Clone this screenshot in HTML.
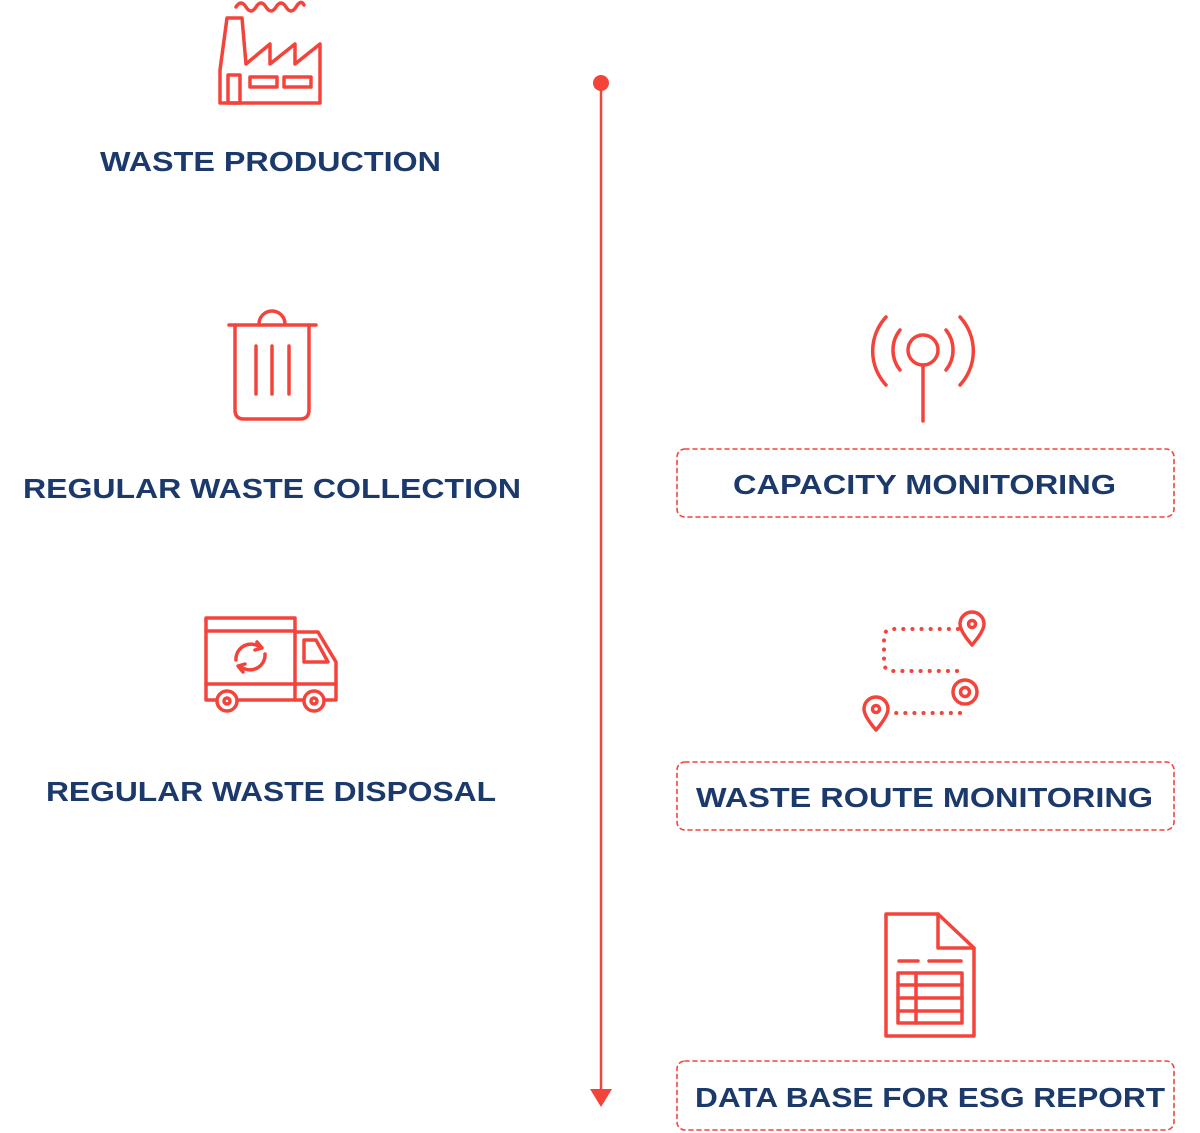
<!DOCTYPE html>
<html><head><meta charset="utf-8"><style>
html,body{margin:0;padding:0;background:#fff;}
svg{display:block}
text{font-family:"Liberation Sans",Arial,sans-serif;font-weight:bold;font-size:28px;fill:#1b3a6b;}
</style></head><body>
<svg width="1200" height="1133" viewBox="0 0 1200 1133" xmlns="http://www.w3.org/2000/svg">
<g fill="none" stroke="#f4433b" stroke-width="3.5" stroke-linejoin="round" stroke-linecap="round">
<circle cx="601" cy="83" r="8" fill="#f4433b" stroke="none"/>
<line x1="601" y1="83" x2="601" y2="1092" stroke-width="2.5"/>
<polygon points="590,1089 612,1089 601,1107" fill="#f4433b" stroke="none"/>
<path d="M236,7 q5,-8 10,0 t10,0 t10,0 t10,0 t10,0 t10,0 t8,-2" stroke-width="3.5"/>
<path d="M220,103 L220,70 L227,18 L242,18 L246,64 L270,44 L270,64 L295,44 L295,64 L320,44 L320,103 Z"/>
<rect x="228" y="75" width="12" height="28"/>
<rect x="250" y="77" width="27" height="10"/>
<rect x="284" y="77" width="27" height="10"/>
<line x1="229" y1="325" x2="316" y2="325"/>
<path d="M259,324 a13,13 0 0 1 26,0"/>
<path d="M235,325 L235,410 q0,9 9,9 L300,419 q9,0 9,-9 L309,325"/>
<line x1="256" y1="346" x2="256" y2="394"/><line x1="272" y1="346" x2="272" y2="394"/><line x1="289" y1="346" x2="289" y2="394"/>
<rect x="206" y="618" width="89" height="82"/>
<line x1="206" y1="631" x2="295" y2="631"/>
<path d="M295,632 L318,632 L336,662 L336,700 L295,700"/>
<path d="M304,640 L316,640 L328,662 L304,662 Z"/>
<line x1="206" y1="684" x2="336" y2="684"/>
<circle cx="227" cy="701" r="10" fill="#fff"/><circle cx="227" cy="701" r="3"/>
<circle cx="314" cy="701" r="10" fill="#fff"/><circle cx="314" cy="701" r="3"/>
<path d="M236,660 a15,15 0 0 1 25,-12"/><path d="M265,654 a15,15 0 0 1 -25,12"/>
<path d="M257,642 l5,6 l-7,2"/><path d="M243,672 l-5,-6 l7,-2"/>
<circle cx="923" cy="350" r="15"/>
<line x1="923" y1="365" x2="923" y2="421"/>
<path d="M900,330 a32,32 0 0 0 0,40"/><path d="M946,330 a32,32 0 0 1 0,40"/>
<path d="M886,317 a50,50 0 0 0 0,68"/><path d="M960,317 a50,50 0 0 1 0,68"/>
<path d="M958,629 L893,629 Q884,629 884,638 L884,662 Q884,671 893,671 L960,671" stroke-dasharray="0.1 9" stroke-width="4"/>
<path d="M960,713 L895,713" stroke-dasharray="0.1 9" stroke-width="4"/>
<path d="M972,645 q-12,-14 -12,-21 a12,12 0 0 1 24,0 q0,7 -12,21 Z"/><circle cx="972" cy="624" r="3.5"/>
<path d="M876,730 q-12,-14 -12,-21 a12,12 0 0 1 24,0 q0,7 -12,21 Z"/><circle cx="876" cy="709" r="3.5"/>
<circle cx="965" cy="692" r="12"/><circle cx="965" cy="692" r="4.5"/>
<path d="M886,914 L938,914 L974,948 L974,1036 L886,1036 Z"/>
<path d="M938,914 L938,948 L974,948"/>
<line x1="899" y1="961" x2="918" y2="961"/><line x1="929" y1="961" x2="961" y2="961"/>
<rect x="898" y="973" width="64" height="50"/>
<line x1="898" y1="985" x2="962" y2="985"/><line x1="898" y1="998" x2="962" y2="998"/><line x1="898" y1="1011" x2="962" y2="1011"/>
<line x1="916" y1="973" x2="916" y2="1023"/>
<g stroke-width="1.6" stroke-dasharray="4 4">
<rect x="677" y="449" width="497" height="68" rx="8"/>
<rect x="677" y="762" width="497" height="68" rx="8"/>
<rect x="677" y="1061" width="497" height="69" rx="8"/>
</g>
</g>
<text x="100" y="171" textLength="341" lengthAdjust="spacingAndGlyphs">WASTE PRODUCTION</text>
<text x="23" y="498" textLength="498" lengthAdjust="spacingAndGlyphs">REGULAR WASTE COLLECTION</text>
<text x="46" y="801" textLength="450" lengthAdjust="spacingAndGlyphs">REGULAR WASTE DISPOSAL</text>
<text x="733" y="494" textLength="383" lengthAdjust="spacingAndGlyphs">CAPACITY MONITORING</text>
<text x="696" y="807" textLength="457" lengthAdjust="spacingAndGlyphs">WASTE ROUTE MONITORING</text>
<text x="695" y="1107" textLength="470" lengthAdjust="spacingAndGlyphs">DATA BASE FOR ESG REPORT</text>
</svg>
</body></html>
